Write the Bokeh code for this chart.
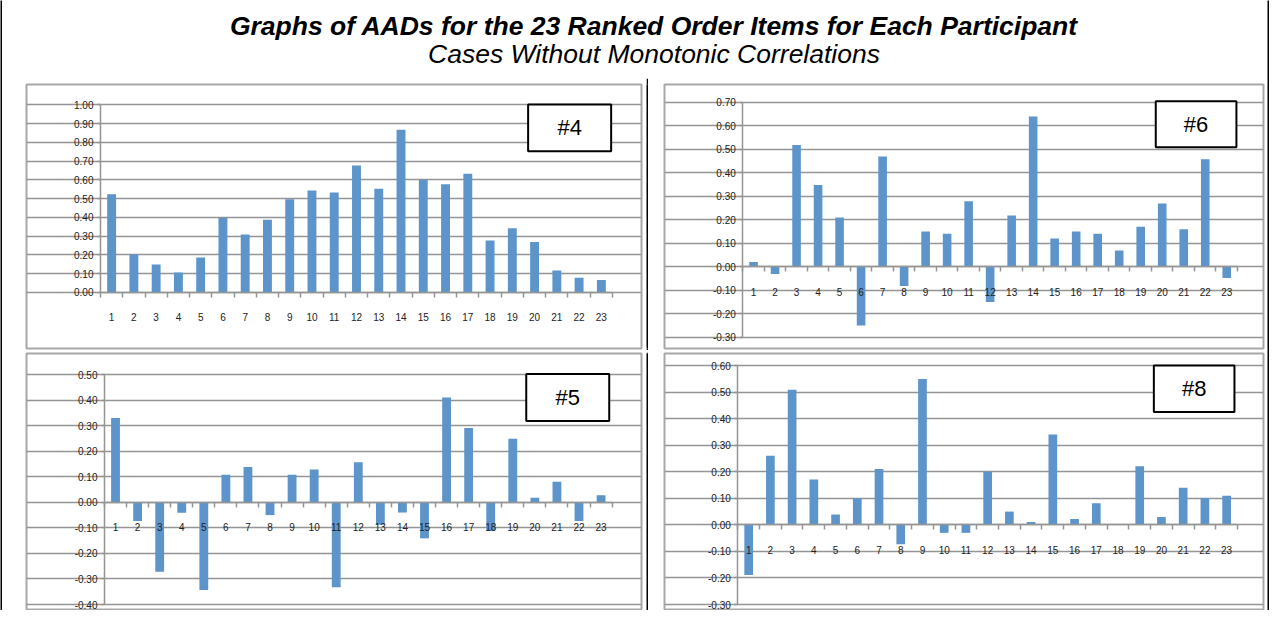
from bokeh.plotting import figure
from bokeh.layouts import row, column
from bokeh.models import (LinearAxis, FixedTicker, Grid, Range1d, BoxAnnotation,
                          Label, NumeralTickFormatter)
from bokeh.core.properties import value
from bokeh.embed import file_html
from bokeh.resources import INLINE

# ---------------- data ----------------
title_text = "Graphs of AADs for the 23 Ranked Order Items for Each Participant"
subtitle_text = "Cases Without Monotonic Correlations"

items = list(range(1, 24))
item_labels = [str(i) for i in items]

aad_p4 = [0.523, 0.202, 0.148, 0.106, 0.186, 0.398, 0.308, 0.387, 0.497, 0.543, 0.533, 0.677,
          0.552, 0.867, 0.600, 0.577, 0.632, 0.276, 0.342, 0.269, 0.116, 0.077, 0.065]
aad_p6 = [0.020, -0.031, 0.518, 0.348, 0.210, -0.249, 0.469, -0.082, 0.150, 0.140, 0.279, -0.150,
          0.218, 0.639, 0.120, 0.150, 0.140, 0.069, 0.170, 0.269, 0.160, 0.457, -0.048]
aad_p5 = [0.330, -0.073, -0.272, -0.041, -0.343, 0.108, 0.138, -0.050, 0.108, 0.128, -0.332, 0.157,
          -0.088, -0.040, -0.141, 0.410, 0.291, -0.112, 0.249, 0.018, 0.080, -0.073, 0.028]
aad_p8 = [-0.189, 0.260, 0.509, 0.171, 0.039, 0.100, 0.210, -0.073, 0.549, -0.030, -0.030, 0.200,
          0.050, 0.011, 0.340, 0.022, 0.081, 0.000, 0.221, 0.030, 0.140, 0.101, 0.110]

ticks_p4 = [0.0, 0.1, 0.2, 0.3, 0.4, 0.5, 0.6, 0.7, 0.8, 0.9, 1.0]
ticks_p6 = [-0.3, -0.2, -0.1, 0.0, 0.1, 0.2, 0.3, 0.4, 0.5, 0.6, 0.7]
ticks_p5 = [-0.4, -0.3, -0.2, -0.1, 0.0, 0.1, 0.2, 0.3, 0.4, 0.5]
ticks_p8 = [-0.3, -0.2, -0.1, 0.0, 0.1, 0.2, 0.3, 0.4, 0.5, 0.6]

# ---------------- style ----------------
FONT = "Liberation Sans"
BAR = "#5D95CA"
GRID = "#959595"
PANEL = "#A8A8A8"


def rule(w, h):
    f = figure(width=w, height=h, min_border=0, toolbar_location=None, tools="",
               x_axis_location=None, y_axis_location=None, title=None,
               background_fill_color="black", border_fill_color="black",
               outline_line_color=None, output_backend="svg")
    f.xgrid.visible = False
    f.ygrid.visible = False
    return f


def panel(values, yticks, tag, box, xr, yr, width, height, mb):
    p = figure(width=width, height=height, x_range=Range1d(*xr), y_range=Range1d(*yr),
               toolbar_location=None, tools="", title=None, output_backend="svg",
               x_axis_location=None, y_axis_location=None,
               min_border_left=mb[0], min_border_right=mb[1],
               min_border_top=mb[2], min_border_bottom=mb[3],
               background_fill_color="white", border_fill_color="white",
               outline_line_color=PANEL, outline_line_width=2)
    p.xgrid.visible = False
    p.ygrid.visible = False

    yt = FixedTicker(ticks=yticks, minor_ticks=[])
    grid = Grid(dimension=1, ticker=yt, bounds=(items[0] - 0.5, items[-1] + 0.5),
                grid_line_color=GRID, grid_line_width=1.5)
    p.add_layout(grid)

    p.vbar(x=items, top=values, bottom=0, width=0.4, fill_color=BAR, line_color=None)

    yaxis = LinearAxis(ticker=yt, fixed_location=items[0] - 0.5,
                       bounds=(min(yticks), max(yticks)),
                       formatter=NumeralTickFormatter(format="0.00"),
                       axis_line_color=GRID, axis_line_width=1.5,
                       major_tick_line_color=GRID, major_tick_line_width=1.5,
                       major_tick_out=3, major_tick_in=0,
                       minor_tick_line_color=None,
                       major_label_standoff=4,
                       major_label_text_font=FONT, major_label_text_font_size="10px",
                       major_label_text_color="#222222")
    p.add_layout(yaxis, "left")

    xt = FixedTicker(ticks=items, minor_ticks=[i - 0.5 for i in items] + [items[-1] + 0.5])
    xaxis = LinearAxis(ticker=xt, fixed_location=0,
                       bounds=(items[0] - 0.5, items[-1] + 0.5),
                       major_label_overrides={i: lab for i, lab in zip(items, item_labels)},
                       axis_line_color=GRID, axis_line_width=1.5,
                       major_tick_line_color=None, major_tick_out=0, major_tick_in=0,
                       minor_tick_line_color=GRID, minor_tick_line_width=1.5,
                       minor_tick_out=5, minor_tick_in=0,
                       major_label_standoff=16,
                       major_label_text_font=FONT, major_label_text_font_size="10px",
                       major_label_text_color="#222222")
    p.add_layout(xaxis, "below")

    l, r, b, t = box
    p.add_layout(BoxAnnotation(left=l, right=r, bottom=b, top=t, fill_color="white",
                               fill_alpha=1.0, line_color="black", line_width=2,
                               line_alpha=1.0))
    p.add_layout(Label(x=(l + r) / 2, y=(b + t) / 2, text=tag, text_align="center",
                       text_baseline="middle", text_font=FONT, text_font_size="22px",
                       text_color="black"))
    return p


tl = panel(aad_p4, ticks_p4, "#4", (19.71, 23.44, 0.753, 1.002),
           (-2.824, 24.803), (-0.2999, 1.1089), 644, 272, (24, 5, 6, 2))
tr = panel(aad_p6, ticks_p6, "#6", (19.70, 23.45, 0.508, 0.704),
           (-3.140, 24.709), (-0.3472, 0.7748), 619, 272, (16, 4, 6, 2))
bl = panel(aad_p5, ticks_p5, "#5", (19.61, 23.37, 0.318, 0.502),
           (-3.034, 24.832), (-0.4233, 0.5822), 644, 258, (24, 5, 1, 0))
br = panel(aad_p8, ticks_p8, "#8", (19.65, 23.36, 0.425, 0.600),
           (-2.874, 24.697), (-0.3224, 0.6452), 619, 258, (16, 4, 1, 0))

hdr = figure(width=1265, height=76, x_range=Range1d(0, 1265), y_range=Range1d(0, 76),
             min_border=0, toolbar_location=None, tools="", title=None,
             x_axis_location=None, y_axis_location=None, outline_line_color=None,
             background_fill_color="white", border_fill_color="white", output_backend="svg")
hdr.xgrid.visible = False
hdr.ygrid.visible = False
hdr.text(x=[651.5], y=[53], text=[title_text], text_font=value(FONT),
         text_font_style="bold italic", text_font_size="26.5px",
         text_align="center", text_baseline="middle", text_color="black")
hdr.text(x=[651.5], y=[25], text=[subtitle_text], text_font=value(FONT),
         text_font_style="italic", text_font_size="26.5px",
         text_align="center", text_baseline="middle", text_color="black")

middle = column(rule(1265, 2), hdr,
                row(tl, rule(2, 272), tr),
                rule(1265, 2),
                row(bl, rule(2, 258), br))
page = row(rule(2, 610), middle, rule(2, 610))

open("out.html", "w").write(file_html(page, INLINE))
